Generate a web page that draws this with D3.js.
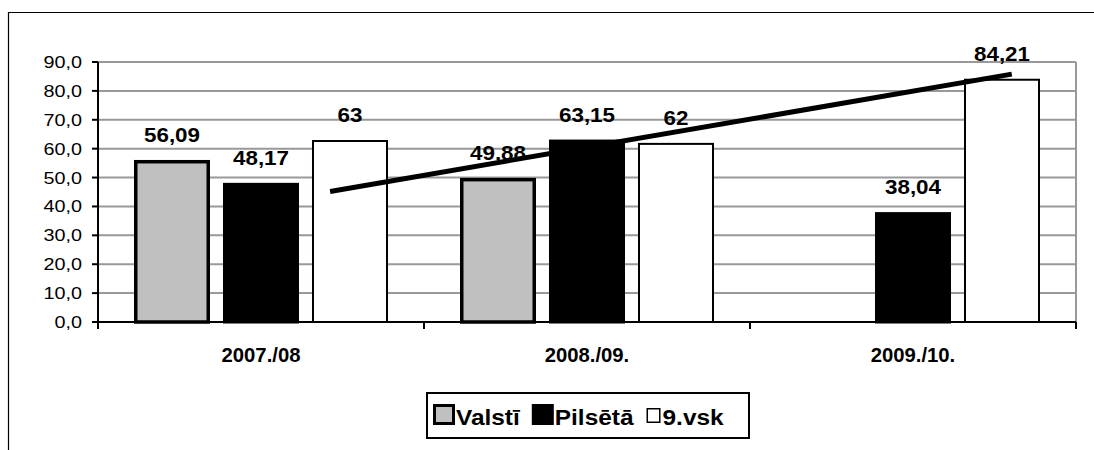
<!DOCTYPE html>
<html>
<head>
<meta charset="utf-8">
<script src="https://cdn.jsdelivr.net/npm/d3@7"></script>
<style>
  body { margin: 0; background: #fff; }
  text { font-family: "Liberation Sans", Arial, sans-serif; fill: #000; }
</style>
</head>
<body>
<div id="chart"></div>
<script>
// data
const categories = ["2007./08", "2008./09.", "2009./10."];
const seriesNames = ["Valstī", "Pilsētā", "9.vsk"];
const valsti = [56.09, 49.88, null];
const pilseta = [48.17, 63.15, 38.04];
const vsk = [63, 62, 84.21];
const yTicks = [0, 10, 20, 30, 40, 50, 60, 70, 80, 90];
// hand drawn line: [position along category axis (0..3), value]
const trendLine = [[0.712, 45.2], [2.803, 85.8]];

const seriesValues = [valsti, pilseta, vsk];
const seriesFill = ["#c0c0c0", "#000000", "#ffffff"];
const seriesStroke = [3.5, 3, 2];

const width = 1094, height = 450;
const plot = { left: 98, right: 1076, top: 62, bottom: 322 };

const svg = d3.select("#chart").append("svg")
    .attr("width", width)
    .attr("height", height);

// the source text is a bit wider than the font, so stretch it sideways
function label(parent, x, y, str, size, bold, anchor, sx) {
  return parent.append("text")
      .attr("transform", `translate(${x},${y}) scale(${sx},1)`)
      .attr("text-anchor", anchor)
      .attr("font-size", size + "px")
      .attr("font-weight", bold ? "bold" : "normal")
      .text(str);
}

// outer frame (cut off at right and bottom)
svg.append("path")
    .attr("d", `M8.5,${height}V12.5H${width}`)
    .attr("fill", "none")
    .attr("stroke", "#000")
    .attr("stroke-width", 1.2);

const y = d3.scaleLinear().domain([0, 90]).range([plot.bottom, plot.top]);
const x0 = d3.scaleBand().domain(categories).range([plot.left, plot.right]);
const x1 = d3.scaleBand().domain(seriesNames).range([36, 290]).paddingInner(0.146);
const xPos = d3.scaleLinear().domain([0, 3]).range([plot.left, plot.right]);

// gridlines
svg.append("g")
    .selectAll("line")
    .data(yTicks.slice(1))
    .enter().append("line")
    .attr("x1", plot.left).attr("x2", plot.right)
    .attr("y1", d => y(d)).attr("y2", d => y(d))
    .attr("stroke", "#999")
    .attr("stroke-width", 2);

svg.append("line")
    .attr("x1", plot.right).attr("x2", plot.right)
    .attr("y1", plot.top).attr("y2", plot.bottom)
    .attr("stroke", "#999")
    .attr("stroke-width", 2);

// bars
seriesValues.forEach((vals, si) => {
  const g = svg.append("g").attr("class", "series");
  const sw = seriesStroke[si];
  g.selectAll("rect")
      .data(vals.map((v, ci) => ({ v, c: categories[ci] })).filter(d => d.v != null))
      .enter().append("rect")
      .attr("x", d => x0(d.c) + x1(seriesNames[si]) + sw / 2)
      .attr("y", d => y(d.v) + sw / 2)
      .attr("width", x1.bandwidth() - sw)
      .attr("height", d => y(0) - y(d.v) - sw / 2)
      .attr("fill", seriesFill[si])
      .attr("stroke", "#000")
      .attr("stroke-width", sw);
});

// trend line
svg.append("line")
    .attr("x1", xPos(trendLine[0][0])).attr("y1", y(trendLine[0][1]))
    .attr("x2", xPos(trendLine[1][0])).attr("y2", y(trendLine[1][1]))
    .attr("stroke", "#000")
    .attr("stroke-width", 5);

// value labels
seriesValues.forEach((vals, si) => {
  vals.forEach((v, ci) => {
    if (v == null) return;
    const cx = x0(categories[ci]) + x1(seriesNames[si]) + x1.bandwidth() / 2;
    label(svg, cx, y(v) - 18, String(v).replace(".", ","), 20, true, "middle", 1.12);
  });
});

// y axis
const yAxis = svg.append("g");
yAxis.append("line")
    .attr("x1", plot.left).attr("x2", plot.left)
    .attr("y1", plot.top).attr("y2", plot.bottom + 1)
    .attr("stroke", "#000").attr("stroke-width", 2);
yAxis.selectAll(".tick")
    .data(yTicks)
    .enter().append("line")
    .attr("x1", plot.left - 6).attr("x2", plot.left)
    .attr("y1", d => y(d)).attr("y2", d => y(d))
    .attr("stroke", "#000").attr("stroke-width", 2);
yTicks.forEach(t => {
  label(yAxis, 82, y(t) + 6, t.toFixed(1).replace(".", ","), 16.5, false, "end", 1.2);
});

// x axis
const xAxis = svg.append("g");
xAxis.append("line")
    .attr("x1", plot.left - 1).attr("x2", plot.right)
    .attr("y1", plot.bottom).attr("y2", plot.bottom)
    .attr("stroke", "#000").attr("stroke-width", 2);
xAxis.selectAll(".tick")
    .data(d3.range(categories.length + 1))
    .enter().append("line")
    .attr("x1", d => xPos(d)).attr("x2", d => xPos(d))
    .attr("y1", plot.bottom).attr("y2", plot.bottom + 7)
    .attr("stroke", "#000").attr("stroke-width", 2);
categories.forEach(c => {
  label(xAxis, x0(c) + x0.bandwidth() / 2, 362, c, 19.5, true, "middle", 1.04);
});

// legend
const legend = svg.append("g");
legend.append("rect")
    .attr("x", 427).attr("y", 393)
    .attr("width", 322).attr("height", 45)
    .attr("fill", "#fff")
    .attr("stroke", "#000")
    .attr("stroke-width", 2);

let lx = 433;
seriesNames.forEach((name, i) => {
  const small = i === 2;
  const size = small ? 14 : 22;
  const sw = small ? 1.5 : 3;
  const top = small ? 408 : 404;
  legend.append("rect")
      .attr("x", lx + sw / 2 + (small ? 1 : 0))
      .attr("y", top + sw / 2)
      .attr("width", size - sw)
      .attr("height", (small ? 15 : 21) - sw)
      .attr("fill", seriesFill[i])
      .attr("stroke", "#000")
      .attr("stroke-width", sw);
  lx += size + (small ? 3 : 1);
  const t = label(legend, lx, 425, name, 22, true, "start", 1.11);
  lx += t.node().getComputedTextLength() * 1.11 + 12;
});
</script>
</body>
</html>
